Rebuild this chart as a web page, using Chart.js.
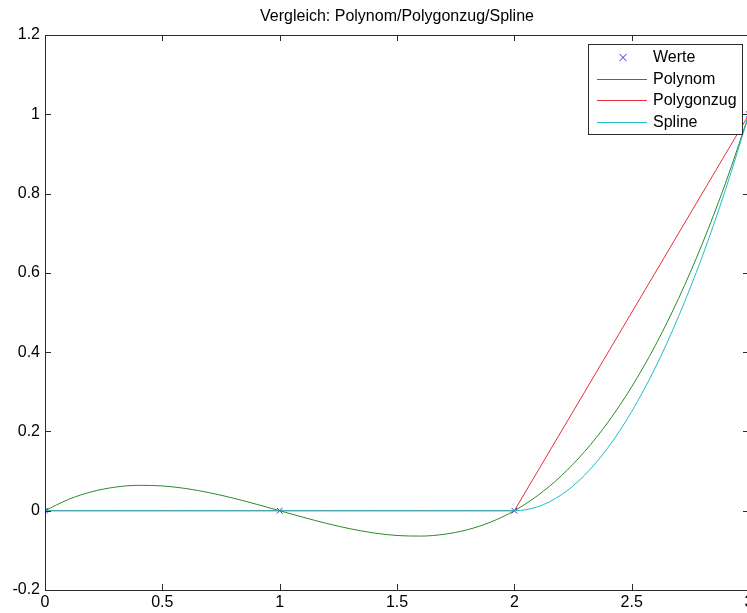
<!DOCTYPE html>
<html>
<head>
<meta charset="utf-8">
<script src="https://cdn.jsdelivr.net/npm/chart.js@4/dist/chart.umd.min.js"></script>
<style>
  html, body { margin: 0; padding: 0; overflow: hidden; background: #fff; }
  #wrap { width: 794px; height: 613px; }
</style>
</head>
<body>
<div id="wrap"><canvas id="cmp"></canvas></div>
<script>
// stuetzstellen
const werteX = [0, 1, 2, 3];
const werteY = [0, 0, 0, 1];

const xs = [0, 0.1, 0.2, 0.3, 0.4, 0.5, 0.6, 0.7, 0.8, 0.9, 1.0,
            1.1, 1.2, 1.3, 1.4, 1.5, 1.6, 1.7, 1.8, 1.9, 2.0,
            2.1, 2.2, 2.3, 2.4, 2.5, 2.6, 2.7, 2.8, 2.9, 3.0];
const polynom = [0, 0.0285, 0.048, 0.0595, 0.064, 0.0625, 0.056, 0.0455, 0.032, 0.0165, 0,
                 -0.0165, -0.032, -0.0455, -0.056, -0.0625, -0.064, -0.0595, -0.048, -0.0285, 0,
                 0.0385, 0.088, 0.1495, 0.224, 0.3125, 0.416, 0.5355, 0.672, 0.8265, 1];
const spline = [0, 0, 0, 0, 0, 0, 0, 0, 0, 0, 0,
                0, 0, 0, 0, 0, 0, 0, 0, 0, 0,
                0.01, 0.04, 0.09, 0.16, 0.25, 0.36, 0.49, 0.64, 0.81, 1];

const titel = 'Vergleich: Polynom/Polygonzug/Spline';

const pts = (x, y) => x.map((v, i) => ({x: v, y: y[i]}));
const axisCol = '#2a2a2a';
const font = {family: '"Liberation Sans", Arial, sans-serif', size: 16};

// kasten + ticks nach innen wie in matlab, titel ueber der achse zentriert
const boxTicks = {
  id: 'boxTicks',
  afterDatasetsDraw(chart) {
    const {ctx, chartArea: a, scales: {x, y}} = chart;
    ctx.save();
    ctx.strokeStyle = axisCol;
    ctx.lineWidth = 1;
    ctx.beginPath();
    ctx.rect(Math.round(a.left) + 0.5, Math.round(a.top) + 0.5,
             Math.round(a.right - a.left), Math.round(a.bottom - a.top));
    x.ticks.forEach(t => {
      const px = Math.round(x.getPixelForValue(t.value)) + 0.5;
      ctx.moveTo(px, a.bottom); ctx.lineTo(px, a.bottom - 6);
      ctx.moveTo(px, a.top); ctx.lineTo(px, a.top + 6);
    });
    y.ticks.forEach(t => {
      const py = Math.round(y.getPixelForValue(t.value)) + 0.5;
      ctx.moveTo(a.left, py); ctx.lineTo(a.left + 6, py);
      ctx.moveTo(a.right, py); ctx.lineTo(a.right - 6, py);
    });
    ctx.stroke();
    ctx.fillStyle = '#000';
    ctx.font = '16px ' + font.family;
    ctx.textAlign = 'center';
    ctx.textBaseline = 'middle';
    ctx.fillText(titel, (a.left + a.right) / 2, 17);
    ctx.restore();
  }
};

// legende im plot oben rechts
const boxLegend = {
  id: 'boxLegend',
  afterDraw(chart) {
    const {ctx, chartArea: a} = chart;
    const right = a.right - 7, top = a.top + 9, w = 154, h = 90;
    const left = right - w;
    ctx.save();
    ctx.fillStyle = '#fff';
    ctx.fillRect(left, top, w, h);
    ctx.lineWidth = 1;
    ctx.strokeStyle = axisCol;
    ctx.strokeRect(Math.round(left) + 0.5, Math.round(top) + 0.5, w, h);
    ctx.font = '16px ' + font.family;
    ctx.textBaseline = 'middle';
    chart.data.datasets.forEach((ds, i) => {
      const yy = Math.round(top + 13 + i * 21.5) + 0.5;
      ctx.beginPath();
      if (ds.showLine === false) {
        const cx = left + 35;
        ctx.moveTo(cx - 3.5, yy - 3.5); ctx.lineTo(cx + 3.5, yy + 3.5);
        ctx.moveTo(cx - 3.5, yy + 3.5); ctx.lineTo(cx + 3.5, yy - 3.5);
      } else {
        ctx.moveTo(left + 9, yy); ctx.lineTo(left + 59, yy);
      }
      ctx.strokeStyle = ds.borderColor;
      ctx.stroke();
      ctx.fillStyle = '#000';
      ctx.fillText(ds.label, left + 65, yy);
    });
    ctx.restore();
  }
};

new Chart(document.getElementById('cmp'), {
  type: 'line',
  data: {
    datasets: [
      {label: 'Werte', data: pts(werteX, werteY), showLine: false, order: 3,
       borderColor: '#3030e0', pointStyle: 'crossRot', pointRadius: 4,
       pointBorderWidth: 1, pointBorderColor: '#3030e0'},
      {label: 'Polynom', data: pts(xs, polynom), borderColor: '#2a8a2a', order: 2,
       borderWidth: 1, pointRadius: 0, cubicInterpolationMode: 'monotone'},
      {label: 'Polygonzug', data: pts(werteX, werteY), borderColor: '#e8303a', order: 1,
       borderWidth: 1, pointRadius: 0, tension: 0},
      {label: 'Spline', data: pts(xs, spline), borderColor: '#20bcc4', order: 0,
       borderWidth: 1, pointRadius: 0, cubicInterpolationMode: 'monotone'}
    ]
  },
  options: {
    responsive: true,
    maintainAspectRatio: false,
    animation: false,
    layout: {padding: {left: 0, right: 45, top: 35, bottom: 0}},
    plugins: {
      legend: {display: false},
      tooltip: {enabled: false},
      title: {display: false}
    },
    scales: {
      x: {
        type: 'linear', min: 0, max: 3,
        ticks: {stepSize: 0.5, color: '#000', font: font, padding: 3,
                callback: v => String(Number(v.toFixed(1)))},
        grid: {display: false, drawTicks: false},
        border: {display: false},
        afterFit: s => { s.height = 23; }
      },
      y: {
        type: 'linear', min: -0.2, max: 1.2,
        ticks: {stepSize: 0.2, color: '#000', font: font, padding: 5,
                callback: v => String(Number(v.toFixed(1)))},
        grid: {display: false, drawTicks: false},
        border: {display: false},
        afterFit: s => { s.width = 45; }
      }
    }
  },
  plugins: [boxTicks, boxLegend]
});
</script>
</body>
</html>
